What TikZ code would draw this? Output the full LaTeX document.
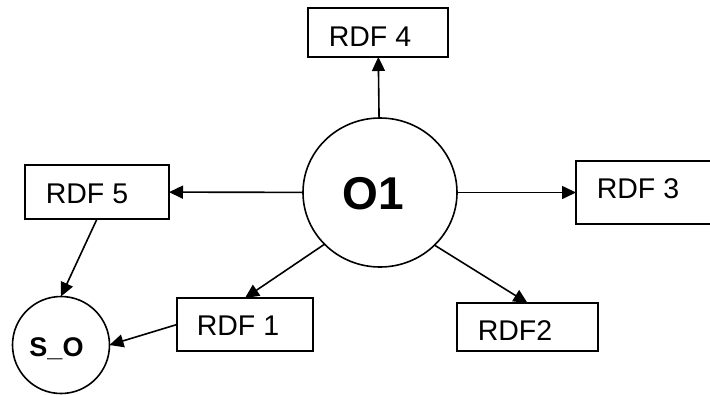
\documentclass[tikz,border=0pt]{standalone}
\usepackage{fontspec}
\setmainfont{Liberation Sans}
\usetikzlibrary{arrows.meta,shapes.geometric}
\tikzset{
  box/.style={draw,line width=1.6pt,rectangle,inner sep=0pt,outer sep=0pt},
  circ/.style={draw,line width=1.6pt,ellipse,inner sep=0pt,outer sep=0pt},
  lbl/.style={inner sep=0pt,text depth=0pt,font=\fontsize{28.5}{30}\selectfont},
  arr/.style={line width=1.6pt,-{Triangle[length=14pt,width=13pt]}}
}
\begin{document}
\begin{tikzpicture}[x=1pt,y=-1pt]
\useasboundingbox[fill=white] (0,0) rectangle (710,394);
\node[circ,minimum width=154pt,minimum height=149pt,
  label={[lbl,font=\fontsize{46}{48}\selectfont\bfseries,xshift=-6.5pt,yshift=-1pt]center:O1}] (o1) at (380,192.5) {};
\node[circ,minimum width=97pt,minimum height=97pt,
  label={[lbl,font=\fontsize{27}{29}\selectfont\bfseries,xshift=-4.5pt,yshift=-2.5pt]center:S\_O}] (so) at (61,345) {};
\node[box,minimum width=140pt,minimum height=49pt,
  label={[lbl,xshift=-8pt,yshift=-4pt]center:RDF 4}] (r4) at (378,32.5) {};
\node[box,minimum width=144pt,minimum height=54pt,
  label={[lbl,xshift=-10pt,yshift=-1.5pt]center:RDF 5}] (r5) at (97,192) {};
\node[box,minimum width=144pt,minimum height=63pt,
  label={[lbl,xshift=-10pt,yshift=3.5pt]center:RDF 3}] (r3) at (648,192.5) {};
\node[box,minimum width=136pt,minimum height=53pt,
  label={[lbl,xshift=-7pt,yshift=-1pt]center:RDF 1}] (r1) at (245,324.5) {};
\node[box,minimum width=141pt,minimum height=48pt,
  label={[lbl,xshift=-12.5pt,yshift=-4pt]center:RDF2}] (r2) at (527.5,327) {};
\draw[arr] (o1) -- (r4);
\draw[arr] (o1) -- (r5);
\draw[arr] (o1) -- (r3);
\draw[arr] (o1.223) -- (r1.north);
\draw[arr] (o1.316) -- (r2.north);
\draw[arr] (r5.south) -- (so.north);
\draw[arr] (r1.west) -- (so.east);
\end{tikzpicture}
\end{document}
